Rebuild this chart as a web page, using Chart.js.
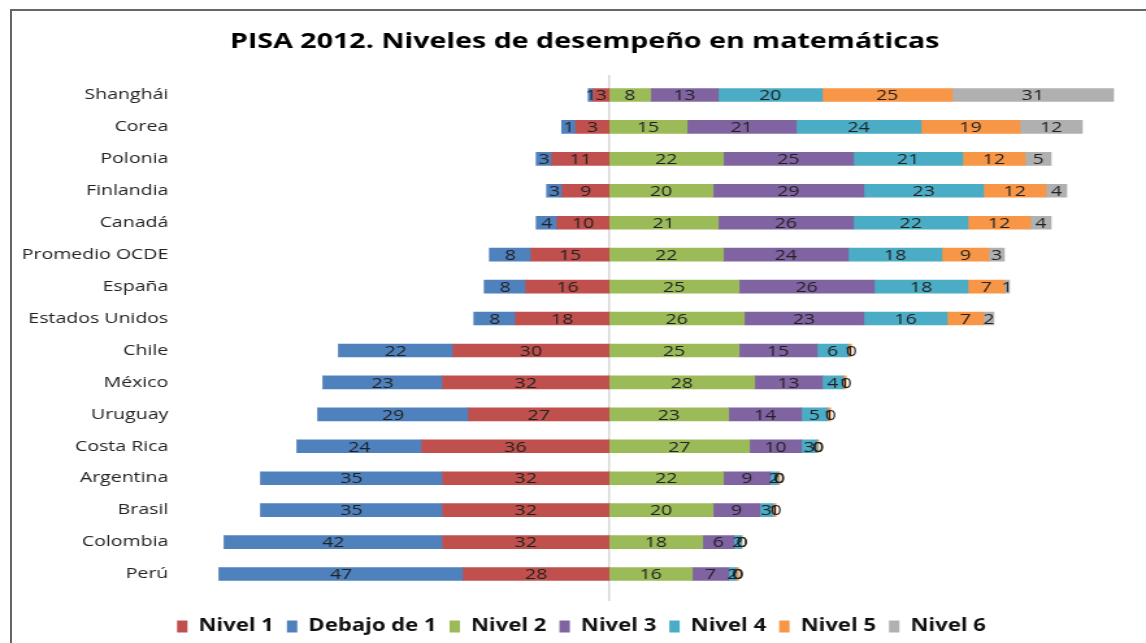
<!DOCTYPE html>
<html lang="es">
<head>
<meta charset="utf-8">
<title>PISA 2012. Niveles de desempeño en matemáticas</title>
<script src="https://cdn.jsdelivr.net/npm/chart.js@4.4.1/dist/chart.umd.min.js"></script>
<style>
  html, body { margin: 0; padding: 0; background: #fff; }
  .wrap { position: relative; width: 1146px; height: 643px; overflow: hidden; }
  .frame { position: absolute; left: 10px; top: 9px; width: 1200px; height: 700px; border-left: 2px solid #666; border-top: 2px solid #666; pointer-events: none; }
  canvas { position: absolute; left: 0; top: 0; }
</style>
</head>
<body>
<div class="wrap">
  <!-- the source image is stretched sideways, so the canvas is drawn narrow and widened by CSS -->
  <canvas id="pisaChart" width="882" height="643" style="width:1146px;height:643px"></canvas>
  <div class="frame"></div>
</div>
<script>
// ─── Data ───────────────────────────────────────────────────────────────────
const countries = ['Shanghái', 'Corea', 'Polonia', 'Finlandia', 'Canadá', 'Promedio OCDE', 'España',
  'Estados Unidos', 'Chile', 'México', 'Uruguay', 'Costa Rica', 'Argentina', 'Brasil', 'Colombia', 'Perú'];

// left of zero (plotted as negatives)
const nivel1  = [3, 6.4, 11, 9, 10, 15, 16, 18, 30, 32, 27, 36, 32, 32, 32, 28];
const debajo1 = [1, 2.7, 3, 3, 4, 8, 8, 8, 22, 23, 29, 24, 35, 35, 42, 47];
// numbers printed on those bars (Corea's printed labels don't match its bar lengths)
const nivel1Text  = [3, 3, 11, 9, 10, 15, 16, 18, 30, 32, 27, 36, 32, 32, 32, 28];
const debajo1Text = [1, 1, 3, 3, 4, 8, 8, 8, 22, 23, 29, 24, 35, 35, 42, 47];
// right of zero
const nivel2 = [8, 15, 22, 20, 21, 22, 25, 26, 25, 28, 23, 27, 22, 20, 18, 16];
const nivel3 = [13, 21, 25, 29, 26, 24, 26, 23, 15, 13, 14, 10, 9, 9, 6, 7];
const nivel4 = [20, 24, 21, 23, 22, 18, 18, 16, 6, 4, 5, 3, 1.5, 2.5, 1.5, 1.5];
const nivel5 = [25, 19, 12, 12, 12, 9, 7, 7, 0.6, 0.6, 0.6, 0.3, 0.3, 0.6, 0.1, 0.4];
const nivel6 = [31, 12, 5, 4, 4, 3, 1, 2, 0, 0, 0, 0, 0, 0, 0, 0];

const TITLE = 'PISA 2012. Niveles de desempeño en matemáticas';
const FONT = "'Open Sans', 'DejaVu Sans', sans-serif";
const neg = arr => arr.map(v => -v);

// ─── Plugins ────────────────────────────────────────────────────────────────
const titleText = {
  id: 'titleText',
  afterDraw(chart) {
    const { ctx } = chart;
    ctx.save();
    ctx.font = 'bold 22px ' + FONT;
    ctx.fillStyle = '#000';
    ctx.textAlign = 'center';
    ctx.textBaseline = 'middle';
    ctx.fillText(TITLE, 450, 42);
    ctx.restore();
  },
};

// legend sits a little right of the chart centre in the original
const legendNudge = {
  id: 'legendNudge',
  afterLayout(chart) {
    const lg = chart.legend;
    if (!lg) return;
    lg.left += 9; lg.right += 9;
    lg.top += 2; lg.bottom += 2;
  },
};

const zeroLine = {
  id: 'zeroLine',
  beforeDatasetsDraw(chart) {
    const { ctx, scales: { x }, chartArea } = chart;
    const px = x.getPixelForValue(0);
    ctx.save();
    ctx.strokeStyle = '#d9d9d9';
    ctx.lineWidth = 1.6;
    ctx.beginPath();
    ctx.moveTo(px, chartArea.top - 4);
    ctx.lineTo(px, chartArea.bottom + 11);
    ctx.stroke();
    ctx.restore();
  },
};

const barLabels = {
  id: 'barLabels',
  afterDatasetsDraw(chart) {
    const { ctx, scales: { x } } = chart;
    const zero = x.getPixelForValue(0);
    const posEnd = chart.data.labels.map(() => zero);
    ctx.save();
    ctx.font = '15px ' + FONT;
    ctx.fillStyle = '#222';
    ctx.textAlign = 'center';
    ctx.textBaseline = 'middle';
    chart.data.datasets.forEach((ds, i) => {
      const meta = chart.getDatasetMeta(i);
      meta.data.forEach((el, j) => {
        const raw = ds.data[j];
        // empty segments sit at the end of the positive stack
        const cx = raw === 0 ? posEnd[j] : (el.x + el.base) / 2;
        if (raw > 0) posEnd[j] = el.x;
        const txt = ds.printed ? ds.printed[j] : Math.round(Math.abs(raw));
        ctx.fillText(String(txt), cx, el.y + 1);
      });
    });
    ctx.restore();
  },
};

// ─── Chart ──────────────────────────────────────────────────────────────────
const series = [
  { label: 'Nivel 1', data: neg(nivel1), printed: nivel1Text, color: '#c0504d' },
  { label: 'Debajo de 1', data: neg(debajo1), printed: debajo1Text, color: '#4f81bd' },
  { label: 'Nivel 2', data: nivel2, color: '#9bbb59' },
  { label: 'Nivel 3', data: nivel3, color: '#8064a2' },
  { label: 'Nivel 4', data: nivel4, color: '#4bacc6' },
  { label: 'Nivel 5', data: nivel5, color: '#f79646' },
  { label: 'Nivel 6', data: nivel6, color: '#b0b0b0' },
];

new Chart(document.getElementById('pisaChart').getContext('2d'), {
  type: 'bar',
  data: {
    labels: countries,
    datasets: series.map(s => ({
      label: s.label,
      data: s.data,
      printed: s.printed,
      backgroundColor: s.color,
      borderWidth: 0,
      barThickness: 13,
    })),
  },
  options: {
    indexAxis: 'y',
    responsive: false,
    animation: false,
    devicePixelRatio: 1,
    layout: { padding: { left: 8, right: 13, top: 79, bottom: 0 } },
    plugins: {
      title: { display: false },
      legend: {
        position: 'bottom',
        labels: {
          color: '#111',
          font: { family: FONT, size: 17, weight: 'bold' },
          boxWidth: 8,
          boxHeight: 12,
          padding: 10,
        },
      },
      tooltip: { enabled: false },
    },
    scales: {
      x: {
        stacked: true,
        min: -82.5,
        max: 100,
        grid: { display: false },
        border: { display: false },
        ticks: { display: false },
        afterFit(scale) { scale.height = 16; },
      },
      y: {
        stacked: true,
        grid: { display: false },
        border: { display: false },
        ticks: { color: '#222', font: { family: FONT, size: 15 }, padding: 1 },
        afterFit(scale) { scale.width = 130.5; },
      },
    },
  },
  plugins: [zeroLine, barLabels, titleText, legendNudge],
});
</script>
</body>
</html>
